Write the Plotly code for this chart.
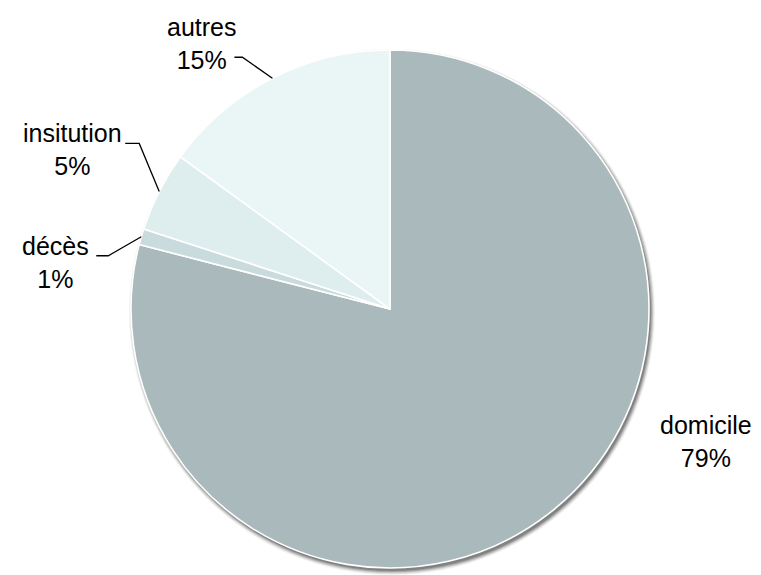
import math
import plotly.graph_objects as go

# Répartition des sorties
labels = ["domicile", "décès", "insitution", "autres"]
values = [79, 1, 5, 15]
colors = ["#AAB9BB", "#C9DBDC", "#DEEDEE", "#EAF5F5"]

W, H = 761, 575
CX, CY, R = 390, 309, 259  # pie centre and radius, in pixels

# label placement relative to the slice's outer mid-point (pixels)
label_layout = {
    "domicile":   {"text": (157, -72), "leader": None},
    "décès":      {"text": (-86, 26), "leader": [(-33, 19), (-45, 19)]},
    "insitution": {"text": (-87, -42), "leader": [(-20, -48), (-34, -48)]},
    "autres":     {"text": (-71, -35), "leader": [(-30, -21), (-38, -21)]},
}


def px(x):
    return x / W


def py(y):
    return 1 - y / H


def clamp(v):
    return min(1.0, max(0.0, v))


def domain(cx, cy, r):
    return dict(x=[clamp(px(cx - r)), clamp(px(cx + r))],
                y=[clamp(py(cy + r)), clamp(py(cy - r))])


fig = go.Figure()

# soft drop shadow under the pie
for dr, alpha in [(4, 0.05), (3, 0.08), (2, 0.12), (1, 0.16), (0, 0.2)]:
    fig.add_trace(go.Pie(
        values=[1], labels=["ombre"], sort=False,
        marker=dict(colors=[f"rgba(0,0,0,{alpha})"], line=dict(width=0)),
        textinfo="none", hoverinfo="skip", showlegend=False,
        domain=domain(CX + 2, CY + 3, R + dr),
    ))

fig.add_trace(go.Pie(
    labels=labels, values=values, sort=False, direction="clockwise", rotation=0,
    marker=dict(colors=colors, line=dict(color="white", width=1.6)),
    textinfo="none", showlegend=False,
    domain=domain(CX, CY, R),
))

total = sum(values)
cum = 0
annotations, shapes = [], []
for lab, val in zip(labels, values):
    mid = (cum + val / 2) / total * 2 * math.pi
    cum += val
    ex = CX + R * math.sin(mid)
    ey = CY - R * math.cos(mid)
    cfg = label_layout[lab]
    tx, ty = ex + cfg["text"][0], ey + cfg["text"][1]
    annotations.append(dict(
        x=px(tx), y=py(ty), xref="paper", yref="paper",
        text=f"{lab}<br>{val / total:.0%}", showarrow=False,
        xanchor="center", yanchor="middle", align="center",
        font=dict(family="Arial, Liberation Sans, sans-serif", size=25, color="#000000"),
    ))
    if cfg["leader"]:
        pts = [(ex, ey)] + [(ex + dx, ey + dy) for dx, dy in cfg["leader"]]
        path = "M " + " L ".join(f"{px(x):.5f},{py(y):.5f}" for x, y in pts)
        shapes.append(dict(type="path", path=path, xref="paper", yref="paper",
                           line=dict(color="#000000", width=1.3)))

fig.update_layout(
    width=W, height=H,
    margin=dict(l=0, r=0, t=0, b=0),
    paper_bgcolor="white", plot_bgcolor="white",
    annotations=annotations, shapes=shapes,
)

fig.write_html("out.html")
